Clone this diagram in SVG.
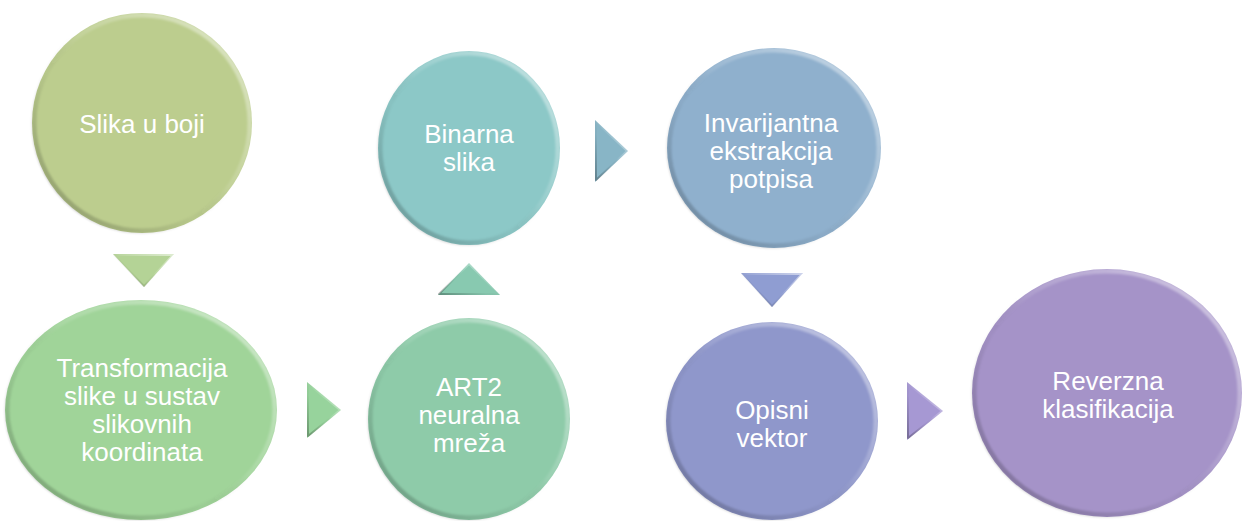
<svg xmlns="http://www.w3.org/2000/svg" width="1243" height="521" viewBox="0 0 1243 521">
<style>
.lbl{font-family:"Liberation Sans",Arial,sans-serif;font-size:26px;fill:#ffffff;text-anchor:middle}
.rim{fill:none;stroke:url(#rim);stroke-width:5;filter:url(#soft)}
.arim{fill:none;stroke:url(#rim);stroke-width:2;stroke-linejoin:round}
</style>
<defs>
<linearGradient id="rim" x1="1" y1="0" x2="0" y2="1">
<stop offset="0" stop-color="#ffffff" stop-opacity="0.55"/>
<stop offset="0.45" stop-color="#ffffff" stop-opacity="0.1"/>
<stop offset="0.6" stop-color="#000000" stop-opacity="0.03"/>
<stop offset="1" stop-color="#000000" stop-opacity="0.28"/>
</linearGradient>
<filter id="soft" x="-10%" y="-10%" width="120%" height="120%"><feGaussianBlur stdDeviation="1.3"/></filter>
</defs>
<g id="connectors">
<g id="a1"><polygon points="113,254 174,254 144,287" fill="#b4d396"/><polygon class="arim" points="114,255 173,255 144,286"/></g>
<g id="a2"><polygon points="307,382 341,410 307,438" fill="#97d39c"/><polygon class="arim" points="308,384 340,410 308,436"/></g>
<g id="a3"><polygon points="438,295 500,295 469,263" fill="#88c9b0"/><polygon class="arim" points="439,294 499,294 469,264"/></g>
<g id="a4"><polygon points="595,120 628,151 595,182" fill="#88b5c6"/><polygon class="arim" points="596,122 627,151 596,180"/></g>
<g id="a5"><polygon points="741,273 803,273 772,307" fill="#8f9dd2"/><polygon class="arim" points="742,274 802,274 772,306"/></g>
<g id="a6"><polygon points="907,382 943,411 907,440" fill="#a698d3"/><polygon class="arim" points="908,384 942,411 908,438"/></g>
</g>
<g id="n1">
<ellipse cx="142" cy="123" rx="110" ry="110" fill="#bccd8e"/>
<ellipse class="rim" cx="142" cy="123" rx="108" ry="108"/>
<text class="lbl" x="142" y="133">Slika u boji</text>
</g>
<g id="n2">
<ellipse cx="141" cy="410" rx="136" ry="110" fill="#a0d499"/>
<ellipse class="rim" cx="141" cy="410" rx="134" ry="108"/>
<text class="lbl" x="142" y="377">Transformacija</text>
<text class="lbl" x="142" y="405">slike u sustav</text>
<text class="lbl" x="142" y="433">slikovnih</text>
<text class="lbl" x="142" y="461">koordinata</text>
</g>
<g id="n3">
<ellipse cx="469" cy="419" rx="101" ry="101" fill="#8ecba9"/>
<ellipse class="rim" cx="469" cy="419" rx="99" ry="99"/>
<text class="lbl" x="469" y="396">ART2</text>
<text class="lbl" x="469" y="424">neuralna</text>
<text class="lbl" x="469" y="452">mreža</text>
</g>
<g id="n4">
<ellipse cx="469" cy="148" rx="91" ry="97" fill="#8cc8c7"/>
<ellipse class="rim" cx="469" cy="148" rx="89" ry="95"/>
<text class="lbl" x="469" y="143">Binarna</text>
<text class="lbl" x="469" y="171">slika</text>
</g>
<g id="n5">
<ellipse cx="774" cy="148" rx="107" ry="100" fill="#8fb0cd"/>
<ellipse class="rim" cx="774" cy="148" rx="105" ry="98"/>
<text class="lbl" x="771" y="132">Invarijantna</text>
<text class="lbl" x="771" y="160">ekstrakcija</text>
<text class="lbl" x="771" y="188">potpisa</text>
</g>
<g id="n6">
<ellipse cx="772" cy="421" rx="106" ry="99" fill="#8f97cb"/>
<ellipse class="rim" cx="772" cy="421" rx="104" ry="97"/>
<text class="lbl" x="772" y="419">Opisni</text>
<text class="lbl" x="772" y="447">vektor</text>
</g>
<g id="n7">
<ellipse cx="1107" cy="393" rx="135" ry="124" fill="#a593c8"/>
<ellipse class="rim" cx="1107" cy="393" rx="133" ry="122"/>
<text class="lbl" x="1108" y="390">Reverzna</text>
<text class="lbl" x="1108" y="418">klasifikacija</text>
</g>
</svg>
